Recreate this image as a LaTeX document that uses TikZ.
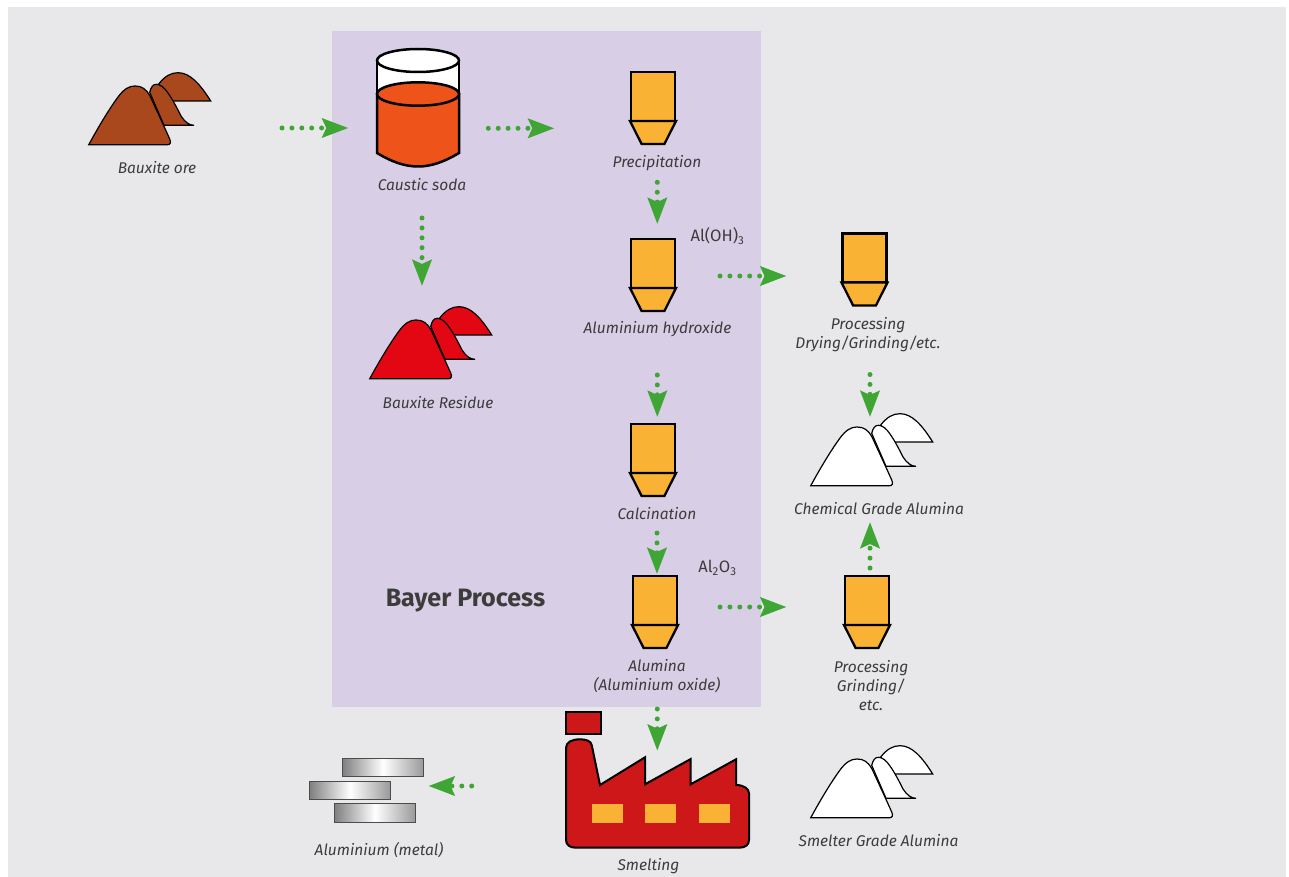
\documentclass[tikz,border=0pt]{standalone}
\usepackage{fontspec}
\setmainfont{Fira Sans}
\usetikzlibrary{arrows.meta,shapes.geometric}
\definecolor{sheet}{HTML}{E8E8EA}
\definecolor{lilac}{HTML}{D8CEE6}
\definecolor{ink}{HTML}{3C3C3B}
\definecolor{amber}{HTML}{F9B233}
\definecolor{leaf}{HTML}{3FA535}
\definecolor{orebrown}{HTML}{A8481C}
\definecolor{lye}{HTML}{EE5319}
\definecolor{mudred}{HTML}{E30613}
\definecolor{brick}{HTML}{CD1719}
\tikzstyle{hopbody} = [rectangle, draw=black, fill=amber, line width=2.3pt, minimum width=44pt, minimum height=49pt, inner sep=0pt, outer sep=0pt]
\tikzstyle{hopfoot} = [trapezium, trapezium stretches=true, trapezium angle=63, shape border rotate=180, draw=black, fill=amber, line width=2.3pt, minimum width=46pt, minimum height=23pt, inner sep=1pt, outer sep=0pt, node distance=36pt]
\tikzstyle{heapbox} = [rectangle, minimum width=123pt, minimum height=74pt, inner sep=0pt, outer sep=0pt]
\tikzstyle{tag} = [text=ink, font=\fontsize{15.5}{19}\selectfont\itshape, align=center, inner sep=0pt]
\tikzstyle{formula} = [text=ink, font=\fontsize{16.5}{19}\selectfont, inner sep=0pt]
\tikzstyle{bar} = [rectangle, draw=black!70, line width=1pt, left color=black!50, right color=black!40, middle color=white, minimum width=81pt, minimum height=18.5pt, inner sep=0pt]
\tikzstyle{window} = [rectangle, fill=amber, minimum width=31pt, minimum height=19pt, inner sep=0pt]
\tikzstyle{flow} = [-{Stealth[length=26pt,width=19pt,inset=4pt]}, draw=leaf, line width=5pt, line cap=round, dash pattern=on 0pt off 9.9pt]
\tikzset{
  heap/.pic={
    \path[pic actions] (70.7,12) .. controls (77,4) and (83,0.7) .. (90,0.7) .. controls (102,0.7) and (112,12) .. (122.7,29) -- (83,29) -- cycle;
    \path[pic actions] (61.7,20.3) .. controls (63,15) and (65,12.3) .. (68.3,12.3) .. controls (72,12.3) and (76,15) .. (80,21) .. controls (85,28) and (90,38) .. (93,44) .. controls (97,50) and (101,53.3) .. (106,53.3) -- (76,53.3) -- cycle;
    \path[pic actions] (0.7,72.8) .. controls (12,52) and (22,36) .. (30,25) .. controls (36,17) and (41,14) .. (47,14) .. controls (54,14) and (58,17) .. (62,24) .. controls (68,37) and (75,52) .. (81.7,67) .. controls (83.5,71) and (82,72.8) .. (79,72.8) -- cycle;
  },
  beaker/.pic={
    \draw[line width=2.5pt, fill=white] (0,11.5) -- (0,45) -- (82,45) -- (82,11.5) -- cycle;
    \draw[line width=2.5pt, fill=white] (41,11.5) ellipse [x radius=41, y radius=11.5];
    \draw[line width=2.5pt, fill=lye] (0,45) -- (0,104) .. controls (15,113) and (28,117.5) .. (41,117.5) .. controls (54,117.5) and (67,113) .. (82,104) -- (82,45) -- cycle;
    \draw[line width=2.5pt, fill=lye] (41,45) ellipse [x radius=41, y radius=11.7];
  },
  plant/.pic={
    \draw[line width=2pt, fill=brick] (0,0) rectangle (35,21.5);
    \draw[line width=2pt, fill=brick] (0,128) -- (0,36) .. controls (0,30) and (6,27.3) .. (14,27.3) .. controls (20,27.3) and (25,29) .. (25.7,33) -- (34,73) -- (79,45.3) -- (79,72.3) -- (124.7,47) -- (124.7,72.3) -- (170,47.3) -- (170,73) .. controls (178,73) and (183,77) .. (183,81.3) -- (183,128) .. controls (183,133) and (179,135.7) .. (173,135.7) -- (10,135.7) .. controls (4,135.7) and (0,133) .. (0,128) -- cycle;
  }
}
\begin{document}
\begin{tikzpicture}[x=1pt,y=-1pt,semithick,node distance=60pt]
  \useasboundingbox (0,0) rectangle (1289,877);
  \node[rectangle, fill=sheet, minimum width=1278pt, minimum height=870pt, inner sep=0pt] (sheet) at (647,442) {};
  \node[rectangle, fill=lilac, minimum width=429pt, minimum height=676pt, inner sep=0pt] (bayer) at (546.5,369) {};
  \node[text=ink, font=\fontsize{25.1}{28}\selectfont\bfseries, inner sep=0pt] (bayer_tag) at (465.5,601) {Bayer Process};

  % heaps and vessels
  \node[heapbox] (ore) at (149.5,109) {};
  \pic[draw=black, line width=1.2pt, fill=orebrown] at (ore.north west) {heap};
  \node[tag] (ore_tag) [below of=ore, node distance=59pt, xshift=7.5pt] {Bauxite ore};
  \node[rectangle, minimum width=82pt, minimum height=118pt, inner sep=0pt, outer sep=0pt] (soda) at (418,108) {};
  \pic at (soda.north west) {beaker};
  \node[tag] (soda_tag) [below of=soda, node distance=77pt, xshift=4pt] {Caustic soda};
  \node[heapbox] (residue) at (430.5,343) {};
  \pic[draw=black, line width=1.2pt, fill=mudred] at (residue.north west) {heap};
  \node[tag] (residue_tag) [below of=residue, node distance=60pt, xshift=7.5pt] {Bauxite Residue};

  % hoppers inside the process
  \node[hopbody] (H_prec) at (653,96.5) {};
  \node[hopfoot] (F_prec) [below of=H_prec] {};
  \node[tag] (prec_tag) [below of=H_prec, node distance=66.5pt, xshift=4pt] {Precipitation};
  \node[hopbody] (H_hydr) at (653,263.5) {};
  \node[hopfoot] (F_hydr) [below of=H_hydr] {};
  \node[tag] (hydr_tag) [below of=H_hydr, node distance=66pt, xshift=4.5pt] {Aluminium hydroxide};
  \node[formula] (hydr_formula) at (717.5,236) {Al(OH)\textsubscript{3}};
  \node[hopbody] (H_calc) at (653,448.5) {};
  \node[hopfoot] (F_calc) [below of=H_calc] {};
  \node[tag] (calc_tag) [below of=H_calc, node distance=65pt, xshift=4pt] {Calcination};
  \node[hopbody] (H_alum) at (655,600.5) {};
  \node[hopfoot] (F_alum) [below of=H_alum] {};
  \node[tag] (alum_tag) [below of=H_alum, node distance=76pt, xshift=2pt] {Alumina\\(Aluminium oxide)};
  \node[formula] (alum_formula) at (717.5,568) {Al\textsubscript{2}O\textsubscript{3}};

  % hoppers and heaps outside
  \node[hopbody] (H_dry) at (864.5,258) {};
  \node[hopfoot] (F_dry) [below of=H_dry] {};
  \node[tag] (dry_tag) [below of=H_dry, node distance=77pt, xshift=3.5pt] {Processing\\Drying/Grinding/etc.};
  \node[heapbox] (chem) at (871.5,450) {};
  \pic[draw=black, line width=1.2pt, fill=white] at (chem.north west) {heap};
  \node[tag] (chem_tag) [below of=chem, node distance=59pt, xshift=7.5pt] {Chemical Grade Alumina};
  \node[hopbody] (H_grind) at (867,600.5) {};
  \node[hopfoot] (F_grind) [below of=H_grind] {};
  \node[tag] (grind_tag) [below of=H_grind, node distance=85pt, xshift=4pt] {Processing\\Grinding/\\etc.};
  \node[heapbox] (smelter) at (871.5,782) {};
  \pic[draw=black, line width=1.2pt, fill=white] at (smelter.north west) {heap};
  \node[tag] (smelter_tag) [below of=smelter, node distance=59pt, xshift=7pt] {Smelter Grade Alumina};

  % smelting and metal
  \node[rectangle, minimum width=183pt, minimum height=136pt, inner sep=0pt, outer sep=0pt] (plant) at (657.5,780) {};
  \pic at (plant.north west) {plant};
  \node[window] (W_a) at (607.6,813.5) {};
  \node[window] (W_b) [right of=W_a, node distance=53pt] {};
  \node[window] (W_c) [right of=W_b, node distance=54pt] {};
  \node[tag] (plant_tag) [below of=plant, node distance=86pt, xshift=-9pt] {Smelting};
  \node[bar] (bar_a) at (383,767.5) {};
  \node[bar] (bar_b) at (350,790.3) {};
  \node[bar] (bar_c) at (375,812.9) {};
  \node[tag] (metal_tag) [below of=bar_c, node distance=37pt, xshift=4pt] {Aluminium (metal)};

  \draw[flow] ([shift={(71,19)}]ore.east) -- ([shift={(-28.7,20)}]soda.west);
  \draw[flow] ([shift={(29.3,20.3)}]soda.east) -- ([shift={(-76.7,31.8)}]H_prec.west);
  \draw[flow] ([shift={(4,51)}]soda.south) -- ([shift={(-8.5,-20)}]residue.north);
  \draw[flow] ([shift={(4.3,38.3)}]F_prec.south) -- ([shift={(4.3,-15)}]H_hydr.north);
  \draw[flow] ([shift={(45,12.5)}]H_hydr.east) -- ([shift={(-56,18)}]H_dry.west);
  \draw[flow] ([shift={(4.3,64)}]F_hydr.south) -- ([shift={(4.3,-7)}]H_calc.north);
  \draw[flow] ([shift={(4,37)}]F_calc.south) -- ([shift={(2,-2)}]H_alum.north);
  \draw[flow] ([shift={(43,6.5)}]H_alum.east) -- ([shift={(-58.5,6.5)}]H_grind.west);
  \draw[flow] ([shift={(3,-8)}]H_grind.north) -- ([shift={(-1.5,35)}]chem.south);
  \draw[flow] ([shift={(5.5,69)}]F_dry.south) -- ([shift={(-1.5,4)}]chem.north);
  \draw[flow] ([shift={(2.3,61)}]F_alum.south) -- ([shift={(-0.2,38.7)}]plant.north);
  \draw[flow] ([shift={(-94.3,6)}]plant.west) -- ([shift={(37.5,-4.3)}]bar_b.east);
\end{tikzpicture}
\end{document}
